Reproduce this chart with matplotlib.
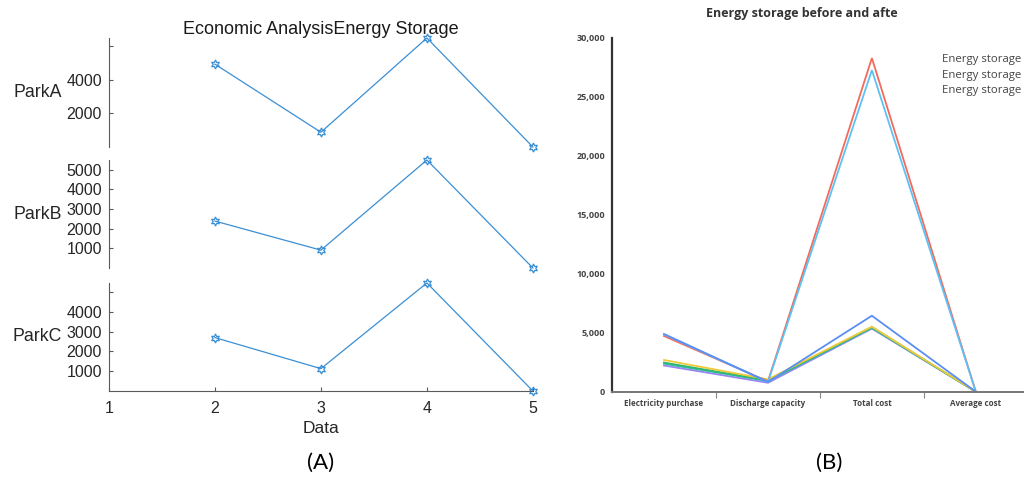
import numpy as np
import matplotlib
matplotlib.use("Agg")
from matplotlib import pyplot as plt
from matplotlib.ticker import FuncFormatter

# panel A data
x_vals = [2, 3, 4, 5]
park_a = [4940, 880, 6500, 0]
park_b = [2390, 910, 5500, 0]
park_c = [2700, 1130, 5460, 0]
park_names = ['ParkA', 'ParkB', 'ParkC']
park_ticks = [[2000, 4000, 6000], [1000, 2000, 3000, 4000, 5000], [1000, 2000, 3000, 4000, 5000]]
park_labels = [['2000', '4000', ''], ['1000', '2000', '3000', '4000', '5000'],
               ['1000', '2000', '3000', '4000', '']]

# panel B data
categories = ['Electricity purchase', 'Discharge capacity', 'Total cost', 'Average cost']
red_vals = [4720, 880, 28270, 0]
sky_vals = [4860, 820, 27250, 0]
royal_vals = [4890, 830, 6440, 0]
yellow_vals = [2690, 1050, 5510, 0]
green_vals = [2470, 960, 5480, 0]
teal_vals = [2370, 900, 5400, 0]
purple_vals = [2220, 760, 5350, 0]
legend_labels = ['Energy storage', 'Energy storage', 'Energy storage']

fig = plt.figure(figsize=(10.24, 4.78), dpi=100)

# ---- (A) stacked plot ----
left_font = 'Liberation Sans'
blue = '#3b8fd4'
grey = '#5a5a5a'
boxes = [[0.1064, 0.6925, 0.414, 0.228],
         [0.1064, 0.4393, 0.414, 0.226],
         [0.1064, 0.182, 0.414, 0.226]]
series = [park_a, park_b, park_c]
axes_a = []
for i in range(3):
    ax = fig.add_axes(boxes[i])
    ax.plot(x_vals, series[i], color=blue, lw=0.9, marker=(6, 1, 0), ms=6.5,
            mfc='none', mec=blue, mew=0.9, clip_on=False)
    ax.set_xlim(1, 5)
    ax.set_ylim(min(series[i]), max(series[i]))
    ax.set_yticks(park_ticks[i])
    ax.set_yticklabels(park_labels[i], fontfamily=left_font, fontsize=11.5, color='#262626')
    ax.tick_params(axis='y', direction='in', length=3, width=0.8, color=grey, pad=5)
    for s in ['top', 'right']:
        ax.spines[s].set_visible(False)
    ax.spines['left'].set_color(grey)
    ax.spines['left'].set_linewidth(0.8)
    ax.set_ylabel(park_names[i], rotation=0, ha='right', va='center',
                  fontfamily=left_font, fontsize=12.8, color='#262626')
    ax.yaxis.set_label_coords(-0.111, 0.5)
    if i < 2:
        ax.spines['bottom'].set_visible(False)
        ax.set_xticks([])
    else:
        ax.spines['bottom'].set_color(grey)
        ax.spines['bottom'].set_linewidth(0.8)
        ax.set_xticks([1, 2, 3, 4, 5])
        ax.set_xticklabels(['1', '2', '3', '4', '5'], fontfamily=left_font,
                           fontsize=11.5, color='#262626')
        ax.tick_params(axis='x', direction='in', length=3, width=0.8, color=grey, pad=7)
        ax.set_xlabel('Data', fontfamily=left_font, fontsize=12.5, color='#262626', labelpad=4)
    axes_a.append(ax)

axes_a[0].set_title('Economic AnalysisEnergy Storage', fontfamily=left_font,
                    fontsize=13, color='#1a1a1a', pad=3)

# ---- (B) line chart ----
right_font = 'Open Sans'
axb = fig.add_axes([0.5977, 0.1805, 0.406, 0.7406])
xb = np.arange(len(categories))
# drawn bottom-up so the later ones sit on top
lines = [(purple_vals, '#9a83f2'), (teal_vals, '#3cb9b0'), (green_vals, '#2fb86a'),
         (yellow_vals, '#f0c93a'), (red_vals, '#f46a5a'), (sky_vals, '#5cc2f5'),
         (royal_vals, '#5b8ef5')]
handles = {}
for vals, col in lines:
    h, = axb.plot(xb, vals, color=col, lw=1.3, solid_joinstyle='miter')
    handles[col] = h

axb.set_xlim(-0.5, len(categories) - 0.5)
axb.set_ylim(0, 30000)
axb.set_yticks(range(0, 30001, 5000))
axb.yaxis.set_major_formatter(FuncFormatter(lambda v, p: f'{int(v):,}'))
axb.tick_params(axis='y', length=0, pad=5, labelsize=6.5, labelcolor='#444444')
for lab in axb.get_yticklabels():
    lab.set_fontfamily(right_font)
    lab.set_fontweight('bold')
axb.set_xticks(xb)
axb.set_xticklabels(categories, fontfamily=right_font, fontweight='bold',
                    fontsize=5.8, color='#444444')
axb.set_xticks([0.5, 1.5, 2.5], minor=True)
axb.tick_params(axis='x', which='major', length=0, pad=5)
axb.tick_params(axis='x', which='minor', length=4, width=0.8, color='#888888')
for s in ['top', 'right']:
    axb.spines[s].set_visible(False)
axb.spines['left'].set_color('#333333')
axb.spines['left'].set_linewidth(1.6)
axb.spines['bottom'].set_color('#777777')
axb.spines['bottom'].set_linewidth(1.4)

leg_handles = [handles['#f46a5a'], handles['#5cc2f5'], handles['#5b8ef5']]
leg = axb.legend(leg_handles, legend_labels, loc='upper right', bbox_to_anchor=(1.0, 0.972),
                 frameon=False, handlelength=0, handletextpad=0, labelspacing=0.38,
                 borderaxespad=0.2, prop={'family': right_font, 'size': 8.2})
for h in leg.legend_handles:
    h.set_visible(False)
for t in leg.get_texts():
    t.set_color('#444444')

fig.text(802 / 1024, 1 - 13 / 478, 'Energy storage before and afte', ha='center', va='center',
         fontfamily=right_font, fontweight='bold', fontsize=9, color='#333333')

# panel captions
fig.text(321 / 1024, 1 - 463 / 478, '(A)', ha='center', va='center', fontfamily='Lato', fontsize=16)
fig.text(829 / 1024, 1 - 463 / 478, '(B)', ha='center', va='center', fontfamily='Lato', fontsize=16)

fig.savefig('out.png', dpi=100)
